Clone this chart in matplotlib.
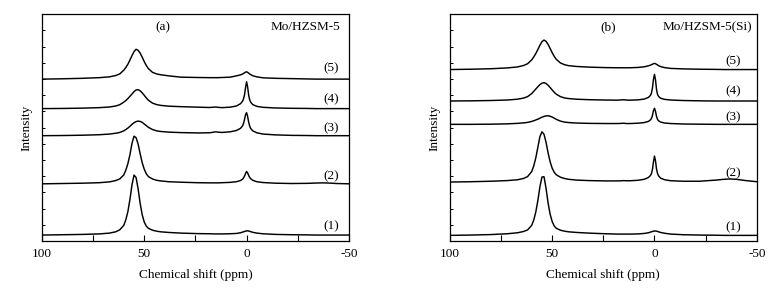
import numpy as np
import matplotlib
matplotlib.use('Agg')
import matplotlib.pyplot as plt
from matplotlib.ticker import MultipleLocator

plt.rcParams['font.family'] = ['Liberation Serif', 'DejaVu Serif']
plt.rcParams['font.size'] = 9.5
plt.rcParams['axes.unicode_minus'] = False

# chemical shift grid (ppm), shared by all spectra
ppm = [100, 90, 80, 72, 67, 64, 62, 60, 59, 58,
       57, 56, 55, 54, 53, 52, 51, 50, 49, 48,
       46, 44, 42, 38, 32, 24, 18, 16, 15, 14,
       12, 8, 5, 3, 2, 1.5, 1, 0.5, 0, -0.5,
       -1, -1.5, -2, -3, -5, -8, -14, -22, -30, -34,
       -37, -40, -44, -50]

# (a) Mo/HZSM-5, intensity above each baseline
a1 = [0.00, 0.02, 0.04, 0.07, 0.12, 0.20, 0.32, 0.60, 0.95, 1.45,
      2.20, 3.10, 3.70, 3.55, 2.85, 1.95, 1.25, 0.80, 0.55, 0.42,
      0.30, 0.24, 0.20, 0.16, 0.12, 0.09, 0.08, 0.07, 0.07, 0.07,
      0.07, 0.08, 0.10, 0.14, 0.18, 0.20, 0.22, 0.24, 0.26, 0.26,
      0.25, 0.23, 0.21, 0.17, 0.12, 0.08, 0.04, 0.02, 0.01, 0.00,
      0.00, 0.00, 0.00, 0.00]
a2 = [0.00, 0.02, 0.04, 0.07, 0.12, 0.20, 0.30, 0.55, 0.85, 1.25,
      1.80, 2.50, 2.94, 2.85, 2.45, 1.85, 1.30, 0.90, 0.62, 0.45,
      0.30, 0.22, 0.18, 0.13, 0.10, 0.07, 0.06, 0.06, 0.06, 0.06,
      0.07, 0.09, 0.13, 0.20, 0.28, 0.36, 0.48, 0.64, 0.76, 0.68,
      0.52, 0.40, 0.32, 0.22, 0.13, 0.08, 0.04, 0.02, 0.03, 0.05,
      0.06, 0.05, 0.02, 0.00]
a3 = [0.00, 0.01, 0.03, 0.06, 0.10, 0.15, 0.20, 0.30, 0.38, 0.47,
      0.58, 0.70, 0.80, 0.87, 0.90, 0.88, 0.82, 0.72, 0.62, 0.52,
      0.38, 0.30, 0.26, 0.22, 0.19, 0.17, 0.18, 0.22, 0.24, 0.22,
      0.20, 0.24, 0.32, 0.45, 0.60, 0.75, 1.00, 1.30, 1.42, 1.20,
      0.85, 0.60, 0.45, 0.30, 0.18, 0.10, 0.05, 0.02, 0.01, 0.00,
      0.00, 0.00, 0.00, 0.00]
a4 = [0.00, 0.01, 0.03, 0.06, 0.10, 0.16, 0.24, 0.40, 0.50, 0.62,
      0.76, 0.90, 1.05, 1.15, 1.17, 1.10, 0.97, 0.82, 0.66, 0.52,
      0.34, 0.25, 0.20, 0.15, 0.12, 0.09, 0.07, 0.09, 0.10, 0.08,
      0.06, 0.09, 0.16, 0.30, 0.45, 0.60, 0.85, 1.30, 1.66, 1.35,
      0.85, 0.55, 0.40, 0.25, 0.14, 0.08, 0.04, 0.02, 0.01, 0.00,
      0.00, 0.00, 0.00, 0.00]
a5 = [0.00, 0.02, 0.05, 0.09, 0.14, 0.22, 0.32, 0.55, 0.72, 0.92,
      1.18, 1.45, 1.70, 1.84, 1.78, 1.60, 1.35, 1.08, 0.84, 0.65,
      0.42, 0.32, 0.27, 0.20, 0.12, 0.10, 0.09, 0.09, 0.09, 0.09,
      0.10, 0.12, 0.20, 0.26, 0.31, 0.35, 0.39, 0.43, 0.45, 0.42,
      0.37, 0.32, 0.28, 0.21, 0.14, 0.08, 0.05, 0.03, 0.01, 0.00,
      0.00, 0.00, 0.00, 0.00]

# (b) Mo/HZSM-5(Si)
b1 = [0.00, 0.02, 0.05, 0.10, 0.16, 0.24, 0.34, 0.62, 0.95, 1.45,
      2.15, 3.00, 3.60, 3.62, 2.90, 2.00, 1.30, 0.85, 0.58, 0.44,
      0.32, 0.26, 0.22, 0.18, 0.14, 0.10, 0.08, 0.08, 0.08, 0.08,
      0.08, 0.09, 0.12, 0.16, 0.20, 0.22, 0.24, 0.26, 0.27, 0.27,
      0.26, 0.24, 0.22, 0.18, 0.13, 0.08, 0.04, 0.02, 0.01, 0.00,
      0.00, 0.00, 0.00, 0.00]
b2 = [0.00, 0.02, 0.05, 0.09, 0.14, 0.22, 0.34, 0.65, 1.00, 1.50,
      2.15, 2.80, 3.10, 2.95, 2.45, 1.80, 1.25, 0.85, 0.60, 0.45,
      0.30, 0.22, 0.17, 0.12, 0.09, 0.07, 0.07, 0.08, 0.09, 0.08,
      0.08, 0.11, 0.17, 0.28, 0.40, 0.52, 0.78, 1.25, 1.60, 1.30,
      0.80, 0.52, 0.38, 0.24, 0.14, 0.08, 0.05, 0.05, 0.12, 0.17,
      0.19, 0.17, 0.10, 0.02]
b3 = [0.00, 0.00, 0.01, 0.03, 0.06, 0.09, 0.12, 0.18, 0.22, 0.27,
      0.32, 0.38, 0.44, 0.49, 0.52, 0.53, 0.50, 0.45, 0.38, 0.31,
      0.20, 0.14, 0.11, 0.08, 0.06, 0.05, 0.05, 0.06, 0.07, 0.05,
      0.05, 0.07, 0.11, 0.18, 0.27, 0.36, 0.55, 0.85, 0.99, 0.80,
      0.48, 0.30, 0.22, 0.14, 0.08, 0.05, 0.02, 0.01, 0.00, 0.00,
      0.00, 0.00, 0.00, 0.00]
b4 = [0.00, 0.01, 0.03, 0.06, 0.11, 0.18, 0.27, 0.46, 0.60, 0.74,
      0.88, 1.01, 1.10, 1.13, 1.08, 0.97, 0.83, 0.68, 0.54, 0.42,
      0.27, 0.19, 0.15, 0.11, 0.08, 0.06, 0.05, 0.07, 0.08, 0.06,
      0.05, 0.07, 0.12, 0.22, 0.34, 0.48, 0.80, 1.35, 1.64, 1.30,
      0.70, 0.40, 0.28, 0.17, 0.10, 0.06, 0.03, 0.01, 0.00, 0.00,
      0.00, 0.00, 0.00, 0.00]
b5 = [0.00, 0.02, 0.05, 0.10, 0.16, 0.25, 0.36, 0.60, 0.78, 0.99,
      1.24, 1.50, 1.72, 1.82, 1.74, 1.55, 1.30, 1.04, 0.81, 0.63,
      0.41, 0.30, 0.24, 0.19, 0.15, 0.12, 0.11, 0.11, 0.11, 0.11,
      0.11, 0.13, 0.17, 0.23, 0.27, 0.30, 0.33, 0.36, 0.38, 0.36,
      0.32, 0.28, 0.24, 0.18, 0.12, 0.07, 0.04, 0.02, 0.01, 0.00,
      0.00, 0.00, 0.00, 0.00]

labels = ['(1)', '(2)', '(3)', '(4)', '(5)']

# stacking baselines and label spots
a_offsets = [0.37, 3.53, 6.50, 8.17, 9.99]
b_offsets = [0.35, 3.64, 7.20, 8.64, 10.58]
a_label_y = [0.93, 4.01, 6.95, 8.74, 10.65]
b_label_y = [0.82, 4.18, 7.63, 9.27, 11.12]

fig = plt.figure(figsize=(7.77, 2.88), dpi=100)
axA = fig.add_axes([0.054, 0.163, 0.395, 0.788])
axB = fig.add_axes([0.579, 0.163, 0.395, 0.788])

panels = [
    (axA, [a1, a2, a3, a4, a5], a_offsets, a_label_y, -41.5, '(a)', 40.9, 'Mo/HZSM-5', -45.6),
    (axB, [b1, b2, b3, b4, b5], b_offsets, b_label_y, -38.4, '(b)', 22.8, 'Mo/HZSM-5(Si)', -47.9),
]

for ax, spectra, offs, ly, lx, tag, tagx, name, namex in panels:
    for spec, off, lab, y in zip(spectra, offs, labels, ly):
        ax.plot(ppm, np.array(spec) + off, color='black', lw=1.05)
        ax.text(lx, y, lab, ha='center', va='center', fontsize=9.5)
    ax.text(tagx, 13.2, tag, ha='center', va='center', fontsize=9.5)
    ax.text(namex, 13.2, name, ha='right', va='center', fontsize=9.5)

    ax.set_xlim(100, -50)
    ax.set_ylim(0, 14)
    ax.xaxis.set_major_locator(MultipleLocator(50))
    ax.xaxis.set_minor_locator(MultipleLocator(25))
    ax.set_yticks(range(0, 15))
    ax.tick_params(axis='x', which='both', direction='in', length=4, width=0.8,
                   top=False, pad=5, labelsize=9.5)
    ax.tick_params(axis='y', which='both', direction='in', length=2.2, width=0.7,
                   right=False, labelleft=False)
    for sp in ax.spines.values():
        sp.set_linewidth(0.9)

    ax.set_xlabel('Chemical shift (ppm)', fontsize=9.5, va='top')
    ax.xaxis.set_label_coords(0.5, -0.125)
    ax.set_ylabel('Intensity', fontsize=9.5)
    ax.yaxis.set_label_coords(-0.03, 0.5)

plt.savefig('out.png', dpi=100)
